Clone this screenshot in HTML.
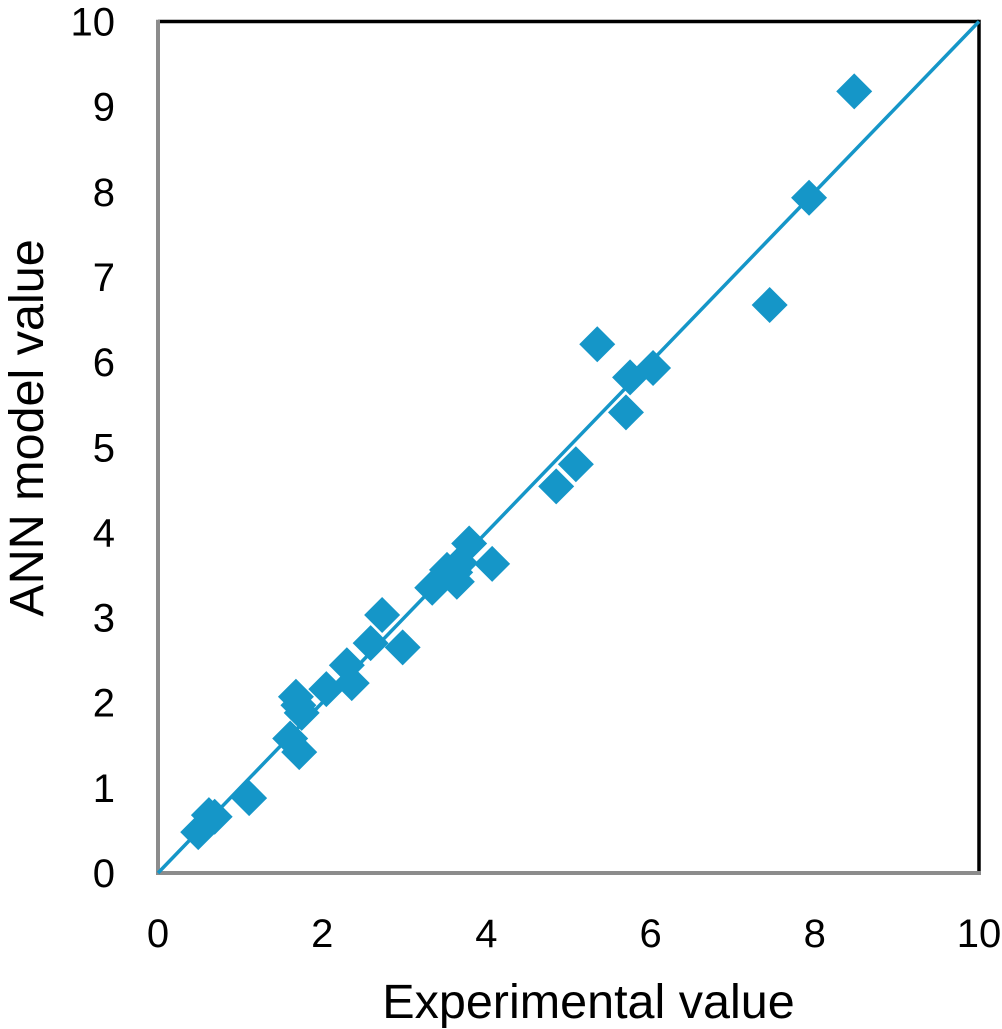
<!DOCTYPE html>
<html lang="en">
<head>
<meta charset="utf-8">
<title>ANN model value vs experimental value</title>
<style>
html,body{margin:0;padding:0;background:#fff;}
body{width:1002px;height:1029px;overflow:hidden;}
svg{display:block;}
text{font-family:"Liberation Sans",Arial,sans-serif;fill:#000;}
</style>
</head>
<body>
<svg id="chart" xmlns="http://www.w3.org/2000/svg" width="1002" height="1029" viewBox="0 0 1002 1029"></svg>
<script>
const xTickLabels = [0, 2, 4, 6, 8, 10];
const yTickLabels = [0, 1, 2, 3, 4, 5, 6, 7, 8, 9, 10];
const experimentalValues = [0.49, 0.62, 0.69, 1.11, 1.61, 1.72, 1.75, 1.71, 1.68, 2.05, 2.36, 2.30, 2.73, 2.59, 2.98, 3.34, 3.52, 3.64, 3.68, 3.62, 3.79, 4.07, 4.85, 5.09, 5.35, 5.70, 5.75, 6.03, 7.45, 7.93, 8.48];
const modelValues = [0.48, 0.68, 0.66, 0.88, 1.58, 1.42, 1.88, 1.97, 2.07, 2.16, 2.23, 2.44, 3.03, 2.70, 2.65, 3.35, 3.56, 3.42, 3.64, 3.53, 3.87, 3.63, 4.54, 4.80, 6.21, 5.41, 5.82, 5.93, 6.67, 7.93, 9.18];
const fitLineX = [0, 10];
const fitLineY = [0, 10];

const svg = document.getElementById('chart');
const NS = 'http://www.w3.org/2000/svg';
const blue = '#1596c8';
const xScale = v => 158 + v * 82.1;
const yScale = v => 873 - v * 85.15;

function make(tag, attrs, parent) {
  const el = document.createElementNS(NS, tag);
  for (const k in attrs) el.setAttribute(k, attrs[k]);
  (parent || svg).appendChild(el);
  return el;
}

const frame = make('g', {});


const topBorder = make('line', {x1: xScale(0), y1: yScale(10), x2: xScale(10), y2: yScale(10), stroke: '#000', 'stroke-width': 3.5}, frame);


const rightBorder = make('line', {x1: xScale(10), y1: yScale(10) - 1.7, x2: xScale(10), y2: yScale(0), stroke: '#000', 'stroke-width': 3.5}, frame);


const yAxisLine = make('line', {x1: xScale(0), y1: yScale(10) - 1.7, x2: xScale(0), y2: yScale(0) + 2, stroke: '#8c8c8c', 'stroke-width': 4}, frame);


const xAxisLine = make('line', {x1: xScale(0) - 2, y1: yScale(0), x2: xScale(10) + 2, y2: yScale(0), stroke: '#8c8c8c', 'stroke-width': 4}, frame);



const fit = make('line', {x1: xScale(fitLineX[0]), y1: yScale(fitLineY[0]), x2: xScale(fitLineX[1]), y2: yScale(fitLineY[1]), stroke: blue, 'stroke-width': 3.5});



const points = make('g', {fill: blue});


const half = 18;
experimentalValues.forEach((xv, i) => {
  const cx = xScale(xv);
  const cy = yScale(modelValues[i]);
  const p = make('polygon', {points: `${cx - half},${cy} ${cx},${cy - half} ${cx + half},${cy} ${cx},${cy + half}`}, points);
  
  
});

xTickLabels.forEach(v => {
  const t = make('text', {x: xScale(v), y: 947, 'font-size': 40, 'text-anchor': 'middle'});
  t.textContent = v;
  
  
});
yTickLabels.forEach(v => {
  const t = make('text', {x: 115, y: yScale(v) + 14, 'font-size': 40, 'text-anchor': 'end'});
  t.textContent = v;
  
  
});

const xTitle = make('text', {x: 588.5, y: 1018, 'font-size': 48.5, 'text-anchor': 'middle'});
xTitle.textContent = 'Experimental value';



const yTitle = make('text', {x: 0, y: 0, 'font-size': 48.5, 'text-anchor': 'middle', transform: 'translate(43 428) rotate(-90)'});
yTitle.textContent = 'ANN model value';


</script>
</body>
</html>
